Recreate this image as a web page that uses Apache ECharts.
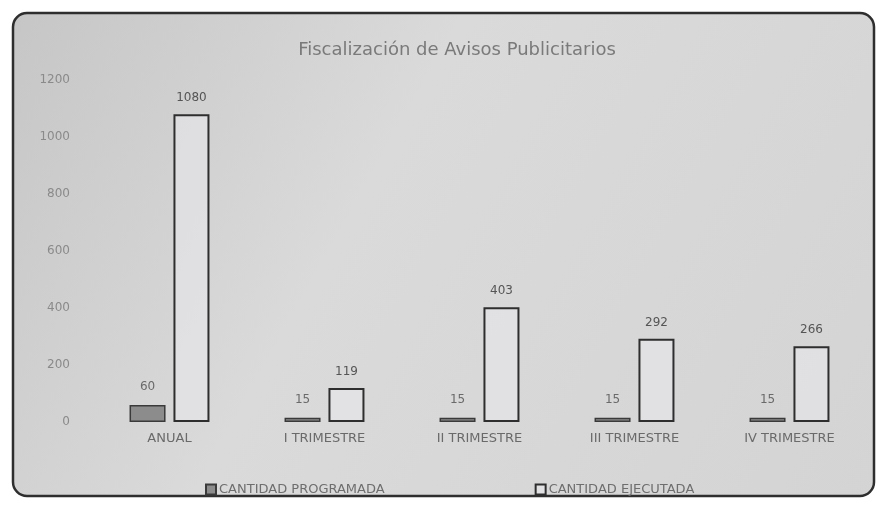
<!DOCTYPE html>
<html>
<head>
<meta charset="utf-8">
<script src="https://cdn.jsdelivr.net/npm/echarts@6/dist/echarts.min.js"></script>
<style>
  html, body { margin: 0; padding: 0; background: #ffffff; }
  #chart { width: 878px; height: 506px; }
</style>
</head>
<body>
<div id="chart"></div>
<script>
// datos
const categorias = ['ANUAL', 'I TRIMESTRE', 'II TRIMESTRE', 'III TRIMESTRE', 'IV TRIMESTRE']
const programada = [60, 15, 15, 15, 15]
const ejecutada = [1080, 119, 403, 292, 266]
const nombresSeries = ['CANTIDAD PROGRAMADA', 'CANTIDAD EJECUTADA']

const chart = echarts.init(document.getElementById('chart'))

const option = {
    animation: false,
    textStyle: { fontFamily: 'DejaVu Sans' },
    // marco redondeado con fondo gris
    graphic: [
        {
            type: 'rect',
            z: -10,
            shape: { x: 13, y: 13, width: 861, height: 483, r: 14 },
            style: {
                fill: new echarts.graphic.LinearGradient(0, 0, 1, 1, [
                    { offset: 0, color: '#c6c6c6' },
                    { offset: 0.4, color: '#dadada' },
                    { offset: 1, color: '#d4d4d4' }
                ]),
                stroke: '#2e2e2e',
                lineWidth: 2.5
            }
        }
    ],
    title: {
        text: 'Fiscalización de Avisos Publicitarios',
        left: 452,
        top: 36,
        textAlign: 'center',
        textStyle: { fontSize: 18, fontWeight: 'normal', color: '#7a7a7a' }
    },
    grid: {
        left: 92,
        right: 11,
        top: 80,
        bottom: 84
    },
    legend: {
        bottom: 5,
        left: 200,
        itemGap: 150,
        itemWidth: 10,
        itemHeight: 10,
        icon: 'rect',
        textStyle: { fontSize: 13, color: '#6e6e6e', padding: [0, 0, 0, -2] },
        data: nombresSeries
    },
    xAxis: {
        type: 'category',
        data: categorias,
        axisLine: { show: false },
        axisTick: { show: false },
        axisLabel: { color: '#6a6a6a', fontSize: 13, margin: 10 }
    },
    yAxis: {
        type: 'value',
        min: 0,
        max: 1200,
        interval: 200,
        splitLine: { show: false },
        axisLabel: { color: '#8a8a8a', fontSize: 12, margin: 22, formatter: (v) => String(v) }
    },
    series: [
        {
            name: nombresSeries[0],
            type: 'bar',
            data: programada,
            barWidth: 36,
            barGap: '22%',
            itemStyle: { color: '#8c8c8c', borderColor: '#3a3a3a', borderWidth: 1.5 },
            label: { show: true, position: 'top', color: '#6a6a6a', fontSize: 12, distance: 12 }
        },
        {
            name: nombresSeries[1],
            type: 'bar',
            data: ejecutada,
            barWidth: 36,
            itemStyle: { color: 'rgba(232,232,236,0.6)', borderColor: '#2e2e2e', borderWidth: 2 },
            label: { show: true, position: 'top', color: '#555555', fontSize: 12, distance: 10 }
        }
    ]
}

chart.setOption(option)
</script>
</body>
</html>
